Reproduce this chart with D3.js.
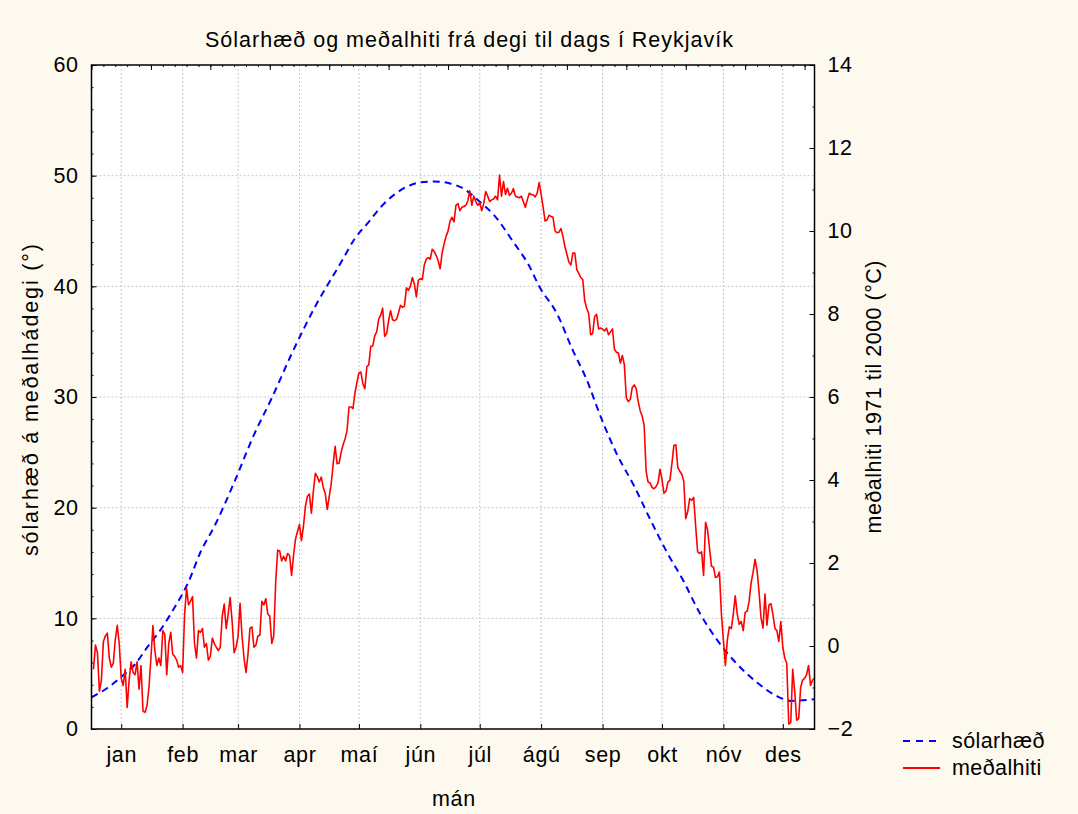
<!DOCTYPE html>
<html>
<head>
<meta charset="utf-8">
<script src="https://cdn.jsdelivr.net/npm/d3@7"></script>
<style>
  body { margin: 0; background: #fdf9ee; }
  svg { display: block; font-family: "Liberation Sans", Arial, sans-serif; }
</style>
</head>
<body>
<svg id="chart" width="1078" height="814"></svg>
<script>
// month labels sit on mid-month days
const months = ["jan", "feb", "mar", "apr", "maí", "jún", "júl", "ágú", "sep", "okt", "nóv", "des"];
const monthDays = [15, 46, 74, 105, 135, 166, 196, 227, 258, 288, 319, 349];

// sun elevation at mean noon (degrees)
const sunDays = [0, 8, 15, 22, 28, 35, 42, 49, 55, 62, 72, 82, 91, 101, 113, 126, 133, 140, 146, 153, 160, 166, 173, 181, 188, 196, 203, 213, 221, 226, 235, 243, 250, 257, 265, 274, 282, 290, 299, 307, 316, 326, 336, 346, 353, 365];
const sunElev = [2.87, 3.7, 4.7, 5.85, 7.35, 9.0, 11.0, 13.3, 15.97, 18.3, 22.27, 26.58, 29.9, 33.88, 38.2, 42.17, 44.33, 45.82, 47.15, 48.31, 49.07, 49.4, 49.47, 49.3, 48.8, 47.65, 46.48, 44.0, 41.84, 40.0, 37.53, 34.21, 31.56, 28.24, 24.92, 21.94, 18.96, 16.14, 13.32, 10.5, 8.01, 5.85, 4.2, 2.97, 2.54, 2.7];

// daily mean temperature 1971-2000 (°C), day 1 onwards
const meanTemp = [
  -0.56, 0.02, -0.16, -1.09, -0.82, 0.11, 0.24, 0.31, -0.29, -0.51,
  -0.42, 0.15, 0.50, 0.06, -0.78, -0.95, -0.56, -1.48, -0.82, -0.38,
  -0.64, -0.69, -0.38, -1.04, -0.47, -1.57, -1.60, -1.44, -1.00, -0.29,
  0.49, -0.11, -0.47, -0.29, -0.47, 0.37, 0.28, -0.69, 0.06, 0.33,
  -0.20, -0.25, -0.34, -0.51, -0.47, -0.64, 0.77, 1.39, 0.99, 1.08,
  1.19, 0.06, -0.29, 0.37, 0.33, 0.42, -0.03, 0.06, -0.34, -0.25,
  0.19, 0.06, -0.03, -0.11, -0.03, 0.72, 1.01, 0.42, 0.77, 1.17,
  0.59, -0.16, -0.03, 0.24, 1.03, 0.24, -0.29, -0.64, -0.20, 0.43,
  0.46, -0.03, 0.02, 0.24, 0.26, 1.08, 0.99, 1.14, 0.77, 0.72,
  0.06, 0.24, 1.56, 2.31, 2.29, 2.05, 2.16, 2.05, 2.23, 2.18,
  1.70, 2.18, 2.58, 2.76, 2.93, 2.54, 2.89, 3.37, 3.61, 3.66,
  3.20, 3.73, 4.16, 4.08, 3.95, 4.07, 3.82, 3.68, 3.29, 3.60,
  3.90, 4.39, 4.81, 4.39, 4.41, 4.66, 4.85, 4.99, 5.19, 5.76,
  5.76, 5.72, 6.10, 6.35, 6.58, 6.60, 6.32, 6.20, 6.73, 6.78,
  7.22, 7.23, 7.48, 7.57, 7.88, 7.97, 8.14, 7.46, 7.53, 7.84,
  8.08, 7.86, 7.84, 7.87, 8.03, 8.21, 8.16, 8.19, 8.63, 8.57,
  8.67, 8.88, 8.72, 8.41, 8.81, 8.85, 8.83, 9.18, 9.32, 9.36,
  9.32, 9.56, 9.51, 9.41, 9.29, 9.09, 9.47, 9.69, 9.87, 10.00,
  10.24, 10.33, 10.22,
  10.62, 10.66, 10.49, 10.57, 10.59, 10.62, 10.73, 10.97, 10.62, 10.84,
  10.71, 10.62, 10.68, 10.49, 10.66, 10.95, 10.84, 10.71, 10.75, 10.77,
  10.84, 10.75, 11.35, 10.84, 11.19, 10.88, 11.03, 10.86, 10.91, 11.02,
  10.84, 10.82, 10.80, 10.84, 10.71, 10.57, 10.75, 10.91, 10.88, 10.87,
  10.82, 10.91, 11.17, 10.88, 10.57, 10.24, 10.27, 10.38, 10.35, 10.33,
  10.00, 9.96, 9.97, 10.06, 9.87, 9.62, 9.44, 9.25, 9.18, 9.47,
  9.47, 9.07, 8.98, 8.88, 8.83, 8.32, 8.14, 8.01, 7.50, 7.53,
  7.94, 7.99, 7.64, 7.66, 7.64, 7.59, 7.66, 7.50, 7.57, 7.64,
  7.15, 7.08, 7.06, 6.82, 7.00, 6.78, 5.98, 5.89, 5.94, 6.23,
  6.29, 6.20, 5.89, 5.67, 5.54, 5.32, 4.21, 3.95, 3.93, 3.82,
  3.79, 3.84, 3.93, 4.26, 4.02, 3.68, 3.73, 3.95, 3.99, 4.39,
  4.83, 4.85, 4.30, 4.21, 4.14, 3.97, 3.07, 3.24, 3.55, 3.51,
  3.58, 2.89, 2.27, 2.23, 2.27, 1.70, 2.98, 2.80, 2.36, 1.92,
  1.90, 1.65, 1.67, 1.78, 0.77, 0.15, -0.47, 0.15, 0.46, 0.42,
  0.77, 1.21, 0.77, 0.52, 0.59, 0.37, 0.81, 0.84, 1.08, 1.52,
  1.78, 2.09, 1.83, 1.30, 0.68, 0.43, 1.25, 0.50, 0.99, 1.02,
  0.77, 0.43, 0.37, 0.11, 0.59, -0.03, -0.29, -0.42, -1.88, -1.84,
  -0.56, -1.09, -1.79, -1.75, -1.00, -0.82, -0.78, -0.69, -0.47, -0.95,
  -0.82, -0.78
];

const svg = d3.select("#chart");
const plotLeft = 91.5, plotRight = 814.5, plotTop = 65, plotBottom = 729;
const fontSize = 21.5;

svg.append("rect").attr("width", 1078).attr("height", 814).attr("fill", "#fdf9ee");
svg.append("rect")
  .attr("x", plotLeft).attr("y", plotTop)
  .attr("width", plotRight - plotLeft).attr("height", plotBottom - plotTop)
  .attr("fill", "#ffffff");

const x = d3.scaleLinear().domain([0, 365]).range([plotLeft, plotRight]);
const yL = d3.scaleLinear().domain([0, 60]).range([plotBottom, plotTop]);
const yR = d3.scaleLinear().domain([-2, 14]).range([plotBottom, plotTop]);

// grid
const grid = svg.append("g").attr("stroke", "#c8c8c8").attr("stroke-width", 1).attr("stroke-dasharray", "2,2");
grid.selectAll("line.h")
  .data([10, 20, 30, 40, 50])
  .enter()
  .append("line")
  .attr("x1", plotLeft).attr("x2", plotRight)
  .attr("y1", (d) => yL(d)).attr("y2", (d) => yL(d));
grid.selectAll("line.v")
  .data(monthDays)
  .enter()
  .append("line")
  .attr("y1", plotTop).attr("y2", plotBottom)
  .attr("x1", (d) => x(d)).attr("x2", (d) => x(d));

// axes, ticks pointing inward
const tickFont = (g) => g.selectAll("text").attr("font-size", fontSize).attr("fill", "#000").attr("letter-spacing", 0.6);
const noDomain = (g) => g.select(".domain").remove();

svg.append("g").attr("transform", `translate(${plotLeft},0)`)
  .call(d3.axisLeft(yL).tickValues(d3.range(0, 61, 2)).tickSize(-2).tickFormat(""))
  .call(noDomain);
svg.append("g").attr("transform", `translate(${plotLeft},0)`)
  .call(d3.axisLeft(yL).tickValues(d3.range(0, 61, 10)).tickSize(-5).tickPadding(13))
  .call(noDomain).call(tickFont);

svg.append("g").attr("transform", `translate(${plotRight},0)`)
  .call(d3.axisRight(yR).tickValues(d3.range(-2, 15, 1)).tickSize(-2).tickFormat(""))
  .call(noDomain);
svg.append("g").attr("transform", `translate(${plotRight},0)`)
  .call(d3.axisRight(yR).tickValues(d3.range(-2, 15, 2)).tickSize(-5).tickPadding(13))
  .call(noDomain).call(tickFont);

svg.append("g").attr("transform", `translate(0,${plotTop})`)
  .call(d3.axisTop(x).tickValues(d3.range(0, 366, 6)).tickSize(-2).tickFormat(""))
  .call(noDomain);
svg.append("g").attr("transform", `translate(0,${plotTop})`)
  .call(d3.axisTop(x).tickValues(d3.range(0, 366, 30)).tickSize(-5).tickFormat(""))
  .call(noDomain);

svg.append("g").attr("transform", `translate(0,${plotBottom})`)
  .call(d3.axisBottom(x).tickValues(monthDays).tickSize(-5).tickPadding(18).tickFormat((d, i) => months[i]))
  .call(noDomain).call(tickFont);

// series
const sunLine = d3.line()
  .x((d, i) => x(sunDays[i]))
  .y((d) => yL(d))
  .curve(d3.curveMonotoneX);
svg.append("path")
  .datum(sunElev)
  .attr("d", sunLine)
  .attr("fill", "none")
  .attr("stroke", "#0000ff")
  .attr("stroke-width", 2)
  .attr("stroke-dasharray", "7,5");

const tempLine = d3.line()
  .x((d, i) => x(i + 1))
  .y((d) => yR(d));
svg.append("path")
  .datum(meanTemp)
  .attr("d", tempLine)
  .attr("fill", "none")
  .attr("stroke", "#ff0000")
  .attr("stroke-width", 1.6)
  .attr("stroke-linejoin", "round");

// frame
svg.append("rect")
  .attr("x", plotLeft).attr("y", plotTop)
  .attr("width", plotRight - plotLeft).attr("height", plotBottom - plotTop)
  .attr("fill", "none")
  .attr("stroke", "#000")
  .attr("stroke-width", 1.5);

// titles
svg.append("text")
  .attr("x", 469).attr("y", 47)
  .attr("text-anchor", "middle")
  .attr("font-size", fontSize)
  .attr("textLength", 528)
  .attr("lengthAdjust", "spacing")
  .text("Sólarhæð og meðalhiti frá degi til dags í Reykjavík");

svg.append("text")
  .attr("x", 454).attr("y", 806)
  .attr("text-anchor", "middle")
  .attr("font-size", fontSize)
  .attr("letter-spacing", 0.8)
  .text("mán");

svg.append("text")
  .attr("transform", `translate(38,${(plotTop + plotBottom) / 2 + 3}) rotate(-90)`)
  .attr("text-anchor", "middle")
  .attr("font-size", fontSize)
  .attr("textLength", 312)
  .attr("lengthAdjust", "spacing")
  .text("sólarhæð á meðalhádegi (°)");

svg.append("text")
  .attr("transform", `translate(881,${(plotTop + plotBottom) / 2}) rotate(-90)`)
  .attr("text-anchor", "middle")
  .attr("font-size", fontSize)
  .attr("textLength", 273)
  .attr("lengthAdjust", "spacing")
  .text("meðalhiti 1971 til 2000 (°C)");

// legend
const legendItems = [
  { label: "sólarhæð", color: "#0000ff", dash: "7,6", y: 741 },
  { label: "meðalhiti", color: "#ff0000", dash: null, y: 768 },
];
const legend = svg.append("g");
legendItems.forEach((item) => {
  legend.append("line")
    .attr("x1", 903).attr("x2", 940)
    .attr("y1", item.y).attr("y2", item.y)
    .attr("stroke", item.color)
    .attr("stroke-width", 2)
    .attr("stroke-dasharray", item.dash);
  legend.append("text")
    .attr("x", 952).attr("y", item.y + 7)
    .attr("font-size", fontSize)
    .attr("letter-spacing", 0.4)
    .text(item.label);
});
</script>
</body>
</html>
